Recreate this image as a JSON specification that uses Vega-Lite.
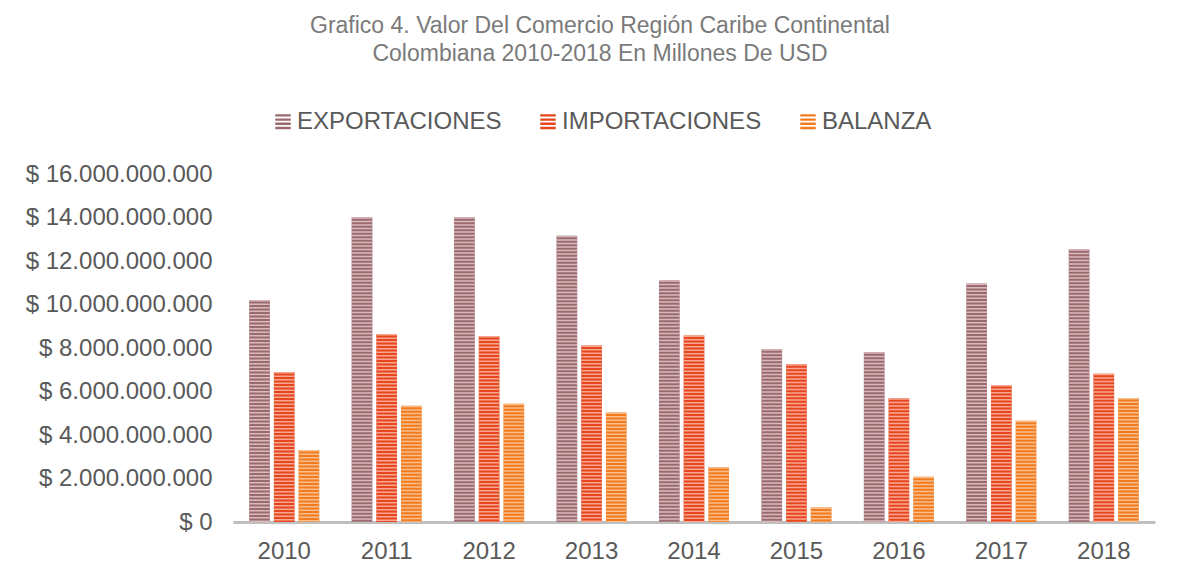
{
  "$schema": "https://vega.github.io/schema/vega-lite/v6.json",
  "width": 922,
  "height": 348,
  "autosize": {"type": "none"},
  "padding": {"left": 233, "top": 174, "right": 29, "bottom": 56},
  "background": "white",
  "config": {
    "locale": {"number": {"decimal": ",", "thousands": ".", "grouping": [3], "currency": ["$ ", ""]}},
    "view": {"stroke": null},
    "font": "Liberation Sans"
  },
  "title": {
    "text": ["Grafico 4. Valor Del Comercio Región Caribe Continental", "Colombiana 2010-2018 En Millones De USD"],
    "font": "Liberation Sans",
    "fontSize": 23,
    "fontWeight": "normal",
    "color": "#7a7a7a",
    "anchor": "middle",
    "frame": "group",
    "dx": -94,
    "dy": -40,
    "lineHeight": 28
  },
  "data": {
    "values": [
      {"year": "2010", "tipo": "EXPORTACIONES", "valor": 10210000000},
      {"year": "2010", "tipo": "IMPORTACIONES", "valor": 6900000000},
      {"year": "2010", "tipo": "BALANZA", "valor": 3310000000},
      {"year": "2011", "tipo": "EXPORTACIONES", "valor": 14010000000},
      {"year": "2011", "tipo": "IMPORTACIONES", "valor": 8640000000},
      {"year": "2011", "tipo": "BALANZA", "valor": 5350000000},
      {"year": "2012", "tipo": "EXPORTACIONES", "valor": 14010000000},
      {"year": "2012", "tipo": "IMPORTACIONES", "valor": 8550000000},
      {"year": "2012", "tipo": "BALANZA", "valor": 5440000000},
      {"year": "2013", "tipo": "EXPORTACIONES", "valor": 13160000000},
      {"year": "2013", "tipo": "IMPORTACIONES", "valor": 8110000000},
      {"year": "2013", "tipo": "BALANZA", "valor": 5040000000},
      {"year": "2014", "tipo": "EXPORTACIONES", "valor": 11110000000},
      {"year": "2014", "tipo": "IMPORTACIONES", "valor": 8580000000},
      {"year": "2014", "tipo": "BALANZA", "valor": 2520000000},
      {"year": "2015", "tipo": "EXPORTACIONES", "valor": 7940000000},
      {"year": "2015", "tipo": "IMPORTACIONES", "valor": 7250000000},
      {"year": "2015", "tipo": "BALANZA", "valor": 670000000},
      {"year": "2016", "tipo": "EXPORTACIONES", "valor": 7800000000},
      {"year": "2016", "tipo": "IMPORTACIONES", "valor": 5690000000},
      {"year": "2016", "tipo": "BALANZA", "valor": 2080000000},
      {"year": "2017", "tipo": "EXPORTACIONES", "valor": 10970000000},
      {"year": "2017", "tipo": "IMPORTACIONES", "valor": 6300000000},
      {"year": "2017", "tipo": "BALANZA", "valor": 4650000000},
      {"year": "2018", "tipo": "EXPORTACIONES", "valor": 12540000000},
      {"year": "2018", "tipo": "IMPORTACIONES", "valor": 6820000000},
      {"year": "2018", "tipo": "BALANZA", "valor": 5700000000}
    ]
  },
  "encoding": {
    "x": {
      "field": "year",
      "type": "nominal",
      "scale": {"paddingInner": 0.316, "paddingOuter": 0.158},
      "axis": {
        "title": null,
        "labelAngle": 0,
        "labelFontSize": 24,
        "labelFont": "Liberation Sans",
        "labelColor": "#595959",
        "ticks": false,
        "domainColor": "#bfbfbf",
        "domainWidth": 3,
        "labelPadding": 17
      }
    },
    "xOffset": {
      "field": "tipo",
      "type": "nominal",
      "sort": ["EXPORTACIONES", "IMPORTACIONES", "BALANZA"],
      "scale": {"paddingInner": 0.162, "paddingOuter": 0}
    },
    "y": {
      "field": "valor",
      "type": "quantitative",
      "scale": {"domain": [0, 16000000000]},
      "axis": {
        "title": null,
        "format": "$,.0f",
        "values": [0, 2000000000, 4000000000, 6000000000, 8000000000, 10000000000, 12000000000, 14000000000, 16000000000],
        "labelFontSize": 24,
        "labelFont": "Liberation Sans",
        "labelColor": "#595959",
        "labelLimit": 0,
        "ticks": false,
        "domain": false,
        "grid": false,
        "labelPadding": 21
      }
    }
  },
  "layer": [
    {
      "mark": {"type": "bar"},
      "encoding": {
        "color": {
          "field": "tipo",
          "type": "nominal",
          "scale": {"domain": ["EXPORTACIONES", "IMPORTACIONES", "BALANZA"], "range": ["#9b6a6f", "#e8461f", "#f27b1d"]},
          "legend": {
            "title": null,
            "orient": "none",
            "legendX": 38,
            "legendY": -64,
            "direction": "horizontal",
            "labelFontSize": 24,
            "labelFont": "Liberation Sans",
            "labelColor": "#595959",
            "labelLimit": 0,
            "symbolType": "M-1,-1H1V-0.7H-1Z M-1,-0.46H1V-0.16H-1Z M-1,0.08H1V0.38H-1Z M-1,0.62H1V0.92H-1Z",
            "symbolSize": 240,
            "symbolStrokeWidth": 0,
            "labelOffset": 2,
            "columnPadding": 34
          }
        }
      }
    },
    {
      "mark": {"type": "rule", "strokeWidth": 20.7, "strokeDash": [1.5, 2], "strokeCap": "butt"},
      "encoding": {
        "y2": {"datum": 0},
        "stroke": {
          "field": "tipo",
          "type": "nominal",
          "scale": {"domain": ["EXPORTACIONES", "IMPORTACIONES", "BALANZA"], "range": ["#d8babd", "#f6a892", "#f9be8e"]},
          "legend": null
        }
      }
    }
  ]
}
